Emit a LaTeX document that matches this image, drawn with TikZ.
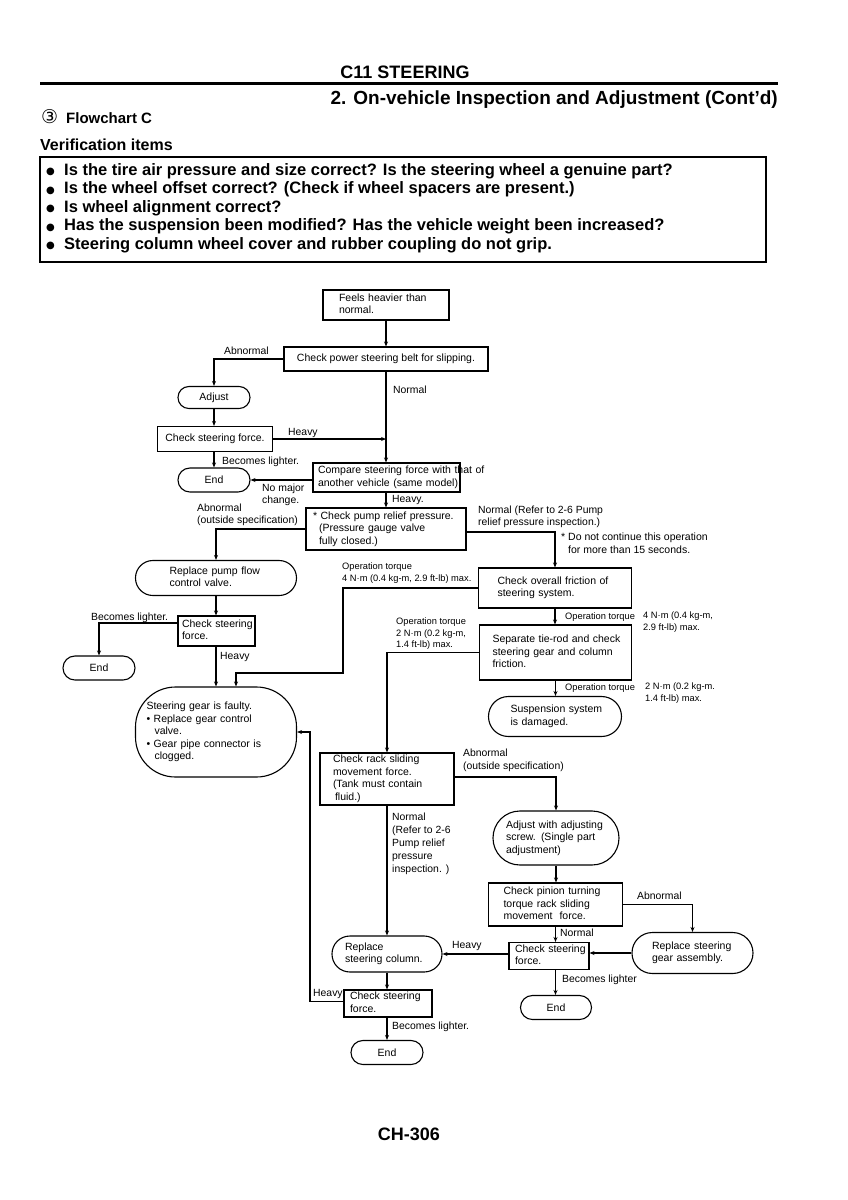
\documentclass[tikz,border=0pt]{standalone}
\usepackage{fontspec}
\setmainfont{Liberation Sans}
\newfontfamily\circfont{DejaVu Sans}
\usetikzlibrary{arrows.meta}
\newcommand\lines[1]{\begin{tabular}{@{}l@{}}#1\end{tabular}}
\newcommand\bxf{\fontsize{10.5}{12.5}\selectfont}
\newcommand\vbul{\makebox[18pt][l]{\raisebox{0.5pt}{\circfont\mdseries\fontsize{10}{10}\selectfont ●}}}
\begin{document}
\begin{tikzpicture}[x=1pt,y=-1pt,
  every node/.style={inner sep=0pt},
  box/.style={draw, line width=1.1pt, font=\bxf, align=left, inner ysep=0pt},
  cbox/.style={draw, line width=1.1pt, font=\bxf, align=center},
  lbl/.style={font=\fontsize{10.4}{12.5}\selectfont, align=left, inner sep=0pt},
  small/.style={font=\fontsize{9.3}{11.3}\selectfont, align=left, inner sep=0pt},
  arr/.style={line width=1.1pt, -{Stealth[length=5pt,width=4pt]}},
  vline/.style={font=\bfseries\fontsize{16.5}{18}\selectfont, anchor=base west}
]
\useasboundingbox (0,0) rectangle (848,1200);

% ---------- header ----------
\node[anchor=base, font=\bfseries\fontsize{18}{20}\selectfont] (title) at (405,78) {C11 STEERING};
\draw[line width=3pt] (40,83) -- (778,83);
\node[anchor=base east, font=\bfseries\fontsize{19}{21}\selectfont] (sub) at (778,104) {2. On-vehicle Inspection and Adjustment (Cont'd)};
\node[anchor=base west, font=\bfseries\fontsize{15}{17}\selectfont] (fc) at (41,123) {\raisebox{-0.5pt}{\circfont\mdseries\fontsize{19}{19}\selectfont ③}\hspace{8pt}Flowchart C};
\node[anchor=base west, font=\bfseries\fontsize{16}{18}\selectfont] (vi) at (40,150) {Verification items};
\draw[line width=1.2pt] (40,157) rectangle (766,262);
\node[vline] (v1) at (46,175) {\vbul Is the tire air pressure and size correct? Is the steering wheel a genuine part?};
\node[vline] (v2) at (46,193.5) {\vbul Is the wheel offset correct? (Check if wheel spacers are present.)};
\node[vline] (v3) at (46,212) {\vbul Is wheel alignment correct?};
\node[vline] (v4) at (46,230.5) {\vbul Has the suspension been modified? Has the vehicle weight been increased?};
\node[vline] (v5) at (46,249) {\vbul Steering column wheel cover and rubber coupling do not grip.};

% ---------- nodes ----------
\node[box, line width=2pt, minimum height=30pt, inner xsep=16pt, text width=94pt] (b1) at (386,305) {\lines{Feels heavier than\\normal.}};
\node[cbox, minimum width=204pt, minimum height=24pt] (b2) at (386,359) {Check power steering belt for slipping.};
\node[cbox, rounded corners=10.9pt, minimum width=72pt, minimum height=22pt] (adj) at (214,397.5) {Adjust};
\node[cbox, minimum width=115pt, minimum height=25pt] (b4) at (215,439) {Check steering force.};
\node[cbox, rounded corners=11.9pt, minimum width=72pt, minimum height=24pt] (endT) at (214,480) {End};
\node[box, minimum height=29pt, inner xsep=5pt, text width=137pt] (b6) at (386.5,477.5) {\lines{Compare steering force with that of\\another vehicle (same model).}};
\node[box, minimum height=42pt, inner xsep=7pt, text width=146pt] (b7) at (386,529) {\lines{* Check pump relief pressure.\\\hspace*{6pt}(Pressure gauge valve\\\hspace*{6pt}fully closed.)}};
\node[box, rounded corners=17.4pt, minimum height=35pt, inner xsep=34pt, text width=93pt] (rp) at (216,578) {\lines{Replace pump flow\\control valve.}};
\node[box, minimum height=40pt, inner xsep=19pt, text width=115pt] (b9) at (555,588) {\lines{Check overall friction of\\steering system.}};
\node[box, minimum height=30pt, inner xsep=4pt, text width=69pt] (b10) at (216.5,631) {\lines{Check steering\\force.}};
\node[cbox, rounded corners=11.9pt, minimum width=72pt, minimum height=24pt] (endL) at (99,668) {End};
\node[box, rounded corners=40pt, minimum height=90pt, inner xsep=11pt, text width=139pt] (sg) at (216,732) {\lines{Steering gear is faulty.\\\textbullet\ Replace gear control\\\hspace*{8pt}valve.\\\textbullet\ Gear pipe connector is\\\hspace*{8pt}clogged.}};
\node[box, minimum height=55pt, inner xsep=13pt, text width=126pt] (b13) at (555.5,652.5) {\lines{Separate tie-rod and check\\steering gear and column\\friction.}};
\node[box, rounded corners=19.9pt, minimum height=40pt, inner xsep=22pt, text width=89pt] (susp) at (555,716.5) {\lines{Suspension system\\is damaged.}};
\node[box, minimum height=52pt, inner xsep=13pt, text width=108pt] (b15) at (387,779) {\lines{Check rack sliding\\movement force.\\(Tank must contain\\\hspace*{2pt}fluid.)}};
\node[box, rounded corners=26.9pt, minimum height=54pt, inner xsep=13pt, text width=100pt] (as) at (556,838) {\lines{Adjust with adjusting\\screw. (Single part\\adjustment)}};
\node[box, minimum height=43pt, inner xsep=15pt, text width=104pt] (b17) at (555.5,904.5) {\lines{Check pinion turning\\torque rack sliding\\movement\ \ force.}};
\node[box, minimum height=27pt, inner xsep=6pt, text width=68pt] (b18) at (549,956) {\lines{Check steering\\force.}};
\node[box, rounded corners=17.9pt, minimum height=36pt, inner xsep=13pt, text width=84pt] (rsc) at (387,954) {\lines{Replace\\steering column.}};
\node[box, rounded corners=20.4pt, minimum height=41pt, inner xsep=20pt, text width=81pt] (rsg) at (692.5,953) {\lines{Replace steering\\gear assembly.}};
\node[box, minimum height=27pt, inner xsep=6pt, text width=76pt] (b22) at (388,1003.5) {\lines{Check steering\\force.}};
\node[cbox, rounded corners=11.9pt, minimum width=71pt, minimum height=24pt] (endR) at (556,1007.5) {End};
\node[cbox, rounded corners=11.9pt, minimum width=72pt, minimum height=24pt] (endB) at (387,1052.5) {End};

% ---------- helper coordinates ----------
\coordinate (c4a) at (343,673);
\coordinate (c4b) at (236,673);
\coordinate (c5) at (310,733);

% ---------- connectors ----------
\draw[arr] (b1.south) -- (b1.south |- b2.north);
\draw[arr] (b2.west) -| (adj.north);
\draw[arr] (adj.south) -- (adj.south |- b4.north);
\draw[arr] (b4.east) -- (b4.east -| b2.south);
\draw[arr] (b2.south) -- (b2.south |- b6.north);
\draw[arr] (b4.south -| adj.south) -- (adj.south |- endT.north);
\draw[arr] (b6.west |- endT.east) -- (endT.east);
\draw[arr] (b6.south -| b2.south) -- (b2.south |- b7.north);
\draw[arr] (b7.west) -| (rp.north);
\draw[arr] ([yshift=-3pt]b7.east) -| (b9.north);
\draw[arr] (rp.south) -- (rp.south |- b10.north);
\draw[arr] ([yshift=8pt]b10.west) -| (endL.north);
\draw[arr] (b10.south -| rp.south) -- (rp.south |- sg.north);
\draw[arr] (b9.west) -| (c4a) |- (c4b) -- (c4b |- sg.north);
\draw[arr] (b9.south) -- (b9.south |- b13.north);
\draw[arr] (b13.west) -| (b15.north);
\draw[arr] (b13.south) -- (b13.south |- susp.north);
\draw[arr] ([yshift=2pt]b15.east) -| (as.north);
\draw[arr] (b15.south) -- (b15.south |- rsc.north);
\draw[arr] (as.south) -- (as.south |- b17.north);
\draw[arr] (b17.east) -| (rsg.north);
\draw[arr] (b17.south) -- (b17.south |- b18.north);
\draw[arr] (rsg.west) -- (rsg.west -| b18.east);
\draw[arr] (b18.west |- rsc.east) -- (rsc.east);
\draw[arr] (b18.south -| b17.south) -- (b17.south |- endR.north);
\draw[arr] (rsc.south) -- (rsc.south |- b22.north);
\draw[arr] (b22.south -| rsc.south) -- (rsc.south |- endB.north);
\draw[arr] ([yshift=2pt]b22.west) -| (c5) |- (sg.east);

% ---------- labels ----------
\node[lbl, anchor=base west] (l1) at (224,354) {Abnormal};
\node[lbl, anchor=base west] (l2) at (393,393.5) {Normal};
\node[lbl, anchor=base west] (l3) at (288,435) {Heavy};
\node[lbl, anchor=base west] (l4) at (222,464.5) {Becomes lighter.};
\node[lbl, anchor=north west] (l5) at (262,483.5) {No major\\change.};
\node[lbl, anchor=base west] (l6) at (392,502.5) {Heavy.};
\node[lbl, anchor=north west] (l7) at (197,503.5) {Abnormal\\(outside specification)};
\node[lbl, anchor=north west] (l8) at (478,505.5) {Normal (Refer to 2-6 Pump\\relief pressure inspection.)};
\node[lbl, anchor=north west, font=\fontsize{10.5}{13}\selectfont] (l9) at (561,532.5) {* Do not continue this operation\\\hspace*{7pt}for more than 15 seconds.};
\node[small, anchor=north west] (l10) at (342,563) {Operation torque\\4 N\textperiodcentered m (0.4 kg-m, 2.9 ft-lb) max.};
\node[lbl, anchor=base west] (l11) at (91,620.5) {Becomes lighter.};
\node[lbl, anchor=base west] (l12) at (220,659.5) {Heavy};
\node[small, anchor=base west] (l13) at (565,619.5) {Operation torque};
\node[small, anchor=north west] (l14) at (643,612) {4 N\textperiodcentered m (0.4 kg-m,\\2.9 ft-lb) max.};
\node[small, anchor=north west] (l15) at (396,618) {Operation torque\\2 N\textperiodcentered m (0.2 kg-m,\\1.4 ft-lb) max.};
\node[small, anchor=base west] (l16) at (565,690.5) {Operation torque};
\node[small, anchor=north west] (l17) at (645,683) {2 N\textperiodcentered m (0.2 kg-m.\\1.4 ft-lb) max.};
\node[lbl, anchor=north west] (l18) at (463,749) {Abnormal\\(outside specification)};
\node[lbl, anchor=north west, font=\fontsize{10.4}{13}\selectfont] (l19) at (392,813) {Normal\\(Refer to 2-6\\Pump relief\\pressure\\inspection. )};
\node[lbl, anchor=base west] (l20) at (637,899.5) {Abnormal};
\node[lbl, anchor=base west] (l21) at (560,936.5) {Normal};
\node[lbl, anchor=base west] (l22) at (452,948.5) {Heavy};
\node[lbl, anchor=base west] (l23) at (562,982.5) {Becomes lighter};
\node[lbl, anchor=base west] (l24) at (313,996) {Heavy};
\node[lbl, anchor=base west] (l25) at (392,1029.5) {Becomes lighter.};

% ---------- footer ----------
\node[anchor=base, font=\bfseries\fontsize{18}{20}\selectfont] (pg) at (409,1140) {CH-306};
\end{tikzpicture}
\end{document}
